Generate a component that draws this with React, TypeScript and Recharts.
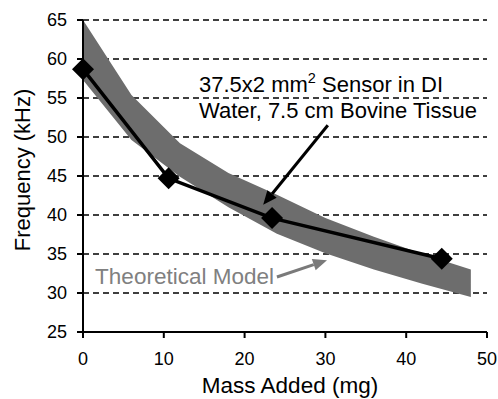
import React from "react";
import {
  ComposedChart,
  Area,
  Line,
  XAxis,
  YAxis,
  CartesianGrid,
  ReferenceLine,
  ReferenceDot,
} from "recharts";

// theoretical model band (lower / upper bound)
const bandX = [0, 6, 12, 18, 24, 30, 36, 42, 48];
const bandLow = [57.3, 49.6, 44.9, 41.0, 37.6, 35.1, 33.0, 31.2, 29.5];
const bandHigh = [65, 55.4, 49.2, 45.4, 42.6, 39.6, 37.2, 35.0, 33.0];

// measured sensor
const massX = [0, 10.6, 23.4, 44.4];
const freqKHz = [58.7, 44.7, 39.6, 34.4];

const xTicks = [0, 10, 20, 30, 40, 50];
const yTicks = [25, 30, 35, 40, 45, 50, 55, 60, 65];

const FONT = "'Liberation Sans', Arial, sans-serif";

type Row = { x: number; band: [number, number] | null; freq: number | null };

const rows: Row[] = (() => {
  const all = Array.from(new Set([...bandX, ...massX])).sort((a, b) => a - b);
  return all.map((x) => {
    const bi = bandX.indexOf(x);
    const mi = massX.indexOf(x);
    return {
      x,
      band: bi >= 0 ? [bandLow[bi], bandHigh[bi]] : null,
      freq: mi >= 0 ? freqKHz[mi] : null,
    };
  });
})();

const Diamond = (props: any) => {
  const { cx, cy, payload, index } = props;
  if (payload?.freq == null || cx == null || cy == null) return <g key={`d${index}`} />;
  const r = 11;
  return (
    <polygon
      key={`d${index}`}
      points={`${cx},${cy - r} ${cx + r},${cy} ${cx},${cy + r} ${cx - r},${cy}`}
      fill="#000"
    />
  );
};

const arrowShape = (color: string) => (props: any) => {
  const { x1, y1, x2, y2 } = props;
  const ang = Math.atan2(y2 - y1, x2 - x1);
  const len = 14;
  const w = 6;
  const bx = x2 - len * Math.cos(ang);
  const by = y2 - len * Math.sin(ang);
  const px = -Math.sin(ang) * w;
  const py = Math.cos(ang) * w;
  return (
    <g>
      <line x1={x1} y1={y1} x2={bx} y2={by} stroke={color} strokeWidth={3} />
      <polygon points={`${x2},${y2} ${bx + px},${by + py} ${bx - px},${by - py}`} fill={color} />
    </g>
  );
};

export default function App() {
  return (
    <div style={{ position: "absolute", left: 0, top: 0, background: "#fff" }}>
      <ComposedChart
        width={498}
        height={399}
        data={rows}
        margin={{ top: 20, right: 11, bottom: 27, left: 23 }}
      >
        <CartesianGrid
          vertical={false}
          stroke="#000"
          strokeWidth={1.5}
          strokeDasharray="6 4"
        />
        <XAxis
          type="number"
          dataKey="x"
          domain={[0, 50]}
          ticks={xTicks}
          height={40}
          axisLine={{ stroke: "#000", strokeWidth: 2 }}
          tickLine={{ stroke: "#000", strokeWidth: 2 }}
          tickSize={6}
          tickMargin={14}
          tick={{ fill: "#000", fontSize: 18, fontFamily: FONT }}
          label={{
            content: (p: any) => {
              const vb = p.viewBox;
              return (
                <text
                  x={vb.x + vb.width / 2 + 5}
                  y={393}
                  textAnchor="middle"
                  fontSize={22.5}
                  fontFamily={FONT}
                  fill="#000"
                >
                  Mass Added (mg)
                </text>
              );
            },
          }}
        />
        <YAxis
          type="number"
          domain={[25, 65]}
          ticks={yTicks}
          width={60}
          axisLine={{ stroke: "#000", strokeWidth: 2 }}
          tickLine={{ stroke: "#000", strokeWidth: 2 }}
          tickSize={6}
          tickMargin={10}
          tick={{ fill: "#000", fontSize: 18, fontFamily: FONT }}
          label={{
            content: (p: any) => {
              const vb = p.viewBox;
              const cy = vb.y + vb.height / 2 - 6;
              return (
                <text
                  x={30}
                  y={cy}
                  transform={`rotate(-90 30 ${cy})`}
                  textAnchor="middle"
                  fontSize={22}
                  fontFamily={FONT}
                  fill="#000"
                >
                  Frequency (kHz)
                </text>
              );
            },
          }}
        />
        <Area
          dataKey="band"
          stroke="none"
          fill="#6d6d6d"
          fillOpacity={1}
          connectNulls
          isAnimationActive={false}
          activeDot={false}
        />
        <Line
          dataKey="freq"
          stroke="#000"
          strokeWidth={3.5}
          connectNulls
          dot={Diamond}
          activeDot={false}
          isAnimationActive={false}
        />
        <ReferenceLine
          segment={[
            { x: 30.3, y: 51.5 },
            { x: 22.3, y: 41.3 },
          ]}
          shape={arrowShape("#000")}
        />
        <ReferenceLine
          segment={[
            { x: 24.0, y: 32.05 },
            { x: 30.2, y: 34.2 },
          ]}
          shape={arrowShape("#7a7a7a")}
        />
        <ReferenceDot
          x={14.36}
          y={55.8}
          r={0}
          shape={(p: any) => (
            <text x={p.cx} y={p.cy} fontSize={22} fontFamily={FONT} fill="#000">
              <tspan>37.5x2 mm</tspan>
              <tspan fontSize={14.5} dy={-9}>2</tspan>
              <tspan dy={9}> Sensor in DI</tspan>
              <tspan x={p.cx} dy={26}>Water, 7.5 cm Bovine Tissue</tspan>
            </text>
          )}
        />
        <ReferenceDot
          x={1.5}
          y={31.15}
          r={0}
          shape={(p: any) => (
            <text x={p.cx} y={p.cy} fontSize={22.5} fontFamily={FONT} fill="#808080">
              Theoretical Model
            </text>
          )}
        />
      </ComposedChart>
    </div>
  );
}
